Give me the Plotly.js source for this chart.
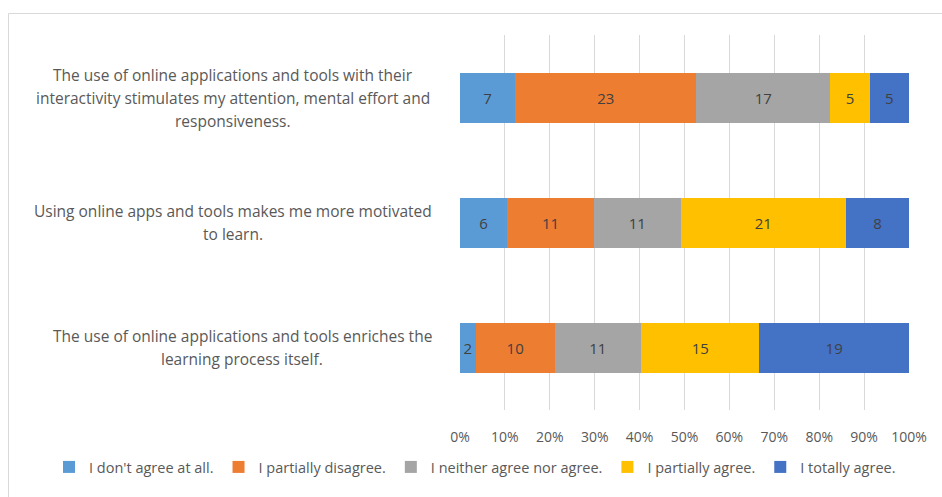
<!DOCTYPE html>
<html>
<head>
<meta charset="utf-8">
<script src="https://cdn.plot.ly/plotly-3.0.1.min.js"></script>
<style>html,body{margin:0;padding:0;background:#fff}#chart{width:942px;height:497px}</style>
</head>
<body>
<div id="chart"></div>
<script>
var categories = [
  "The use of online applications and tools with their<br>interactivity stimulates my attention, mental effort and<br>responsiveness.",
  "Using online apps and tools makes me more motivated<br>to learn.",
  "The use of online applications and tools enriches the<br>learning process itself."
];
var seriesNames = ["I don't agree at all.", "I partially disagree.", "I neither agree nor agree.", "I partially agree.", "I totally agree."];
var dontAgree = [7, 6, 2];
var partiallyDisagree = [23, 11, 10];
var neither = [17, 11, 11];
var partiallyAgree = [5, 21, 15];
var totallyAgree = [5, 8, 19];
var tickVals = [0,10,20,30,40,50,60,70,80,90,100];
var tickText = ["0%","10%","20%","30%","40%","50%","60%","70%","80%","90%","100%"];

var colors = ["#5B9BD5", "#ED7D31", "#A5A5A5", "#FFC000", "#4472C4"];
var allSeries = [dontAgree, partiallyDisagree, neither, partiallyAgree, totallyAgree];
var keys = ["c0","c1","c2"];
var FONT = 'Open Sans, sans-serif';
var PLOT_L = 460, PLOT_W = 449;
var labelCentersPx = [233, 233, 242];

var traces = allSeries.map(function(vals, i){
  return {
    type: 'bar', orientation: 'h',
    x: vals, y: keys, name: seriesNames[i],
    marker: {color: colors[i], line: {width: 0}},
    text: vals.map(String), textposition: 'inside', insidetextanchor: 'middle',
    constraintext: 'none',
    textfont: {family: FONT, size: 15, color: '#404040'},
    hoverinfo: 'none', width: 0.4
  };
});

var annotations = [];
categories.forEach(function(c, ci){
  var lines = c.split('<br>');
  var n = lines.length;
  lines.forEach(function(line, k){
    annotations.push({
      xref: 'paper', yref: 'y', x: (labelCentersPx[ci] - PLOT_L) / PLOT_W, y: keys[ci],
      xanchor: 'center', yanchor: 'middle',
      yshift: -((k - (n-1)/2) * 23),
      text: line, showarrow: false, align: 'center',
      font: {family: FONT, size: 15.5, color: '#595959'}
    });
  });
});

var layout = {
  width: 942, height: 497,
  margin: {l: 460, r: 33, t: 35, b: 87},
  paper_bgcolor: '#fff', plot_bgcolor: '#fff',
  barmode: 'stack', barnorm: 'percent',
  showlegend: true,
  xaxis: {
    range: [0, 100], tickvals: tickVals, ticktext: tickText,
    showgrid: true, gridcolor: '#D9D9D9', gridwidth: 1, zeroline: false,
    ticks: 'outside', ticklen: 14, tickcolor: 'rgba(0,0,0,0)',
    tickfont: {family: FONT, size: 14, color: '#595959'},
    fixedrange: true
  },
  yaxis: {
    type: 'category', categoryarray: keys, autorange: 'reversed',
    showticklabels: false, showgrid: false, zeroline: false, fixedrange: true
  },
  legend: {
    orientation: 'h', xref: 'paper', yref: 'paper',
    x: (49-460)/449, xanchor: 'left', y: -0.152, yanchor: 'middle',
    font: {family: FONT, size: 14.5, color: '#595959'},
    traceorder: 'normal', itemwidth: 30, bgcolor: 'rgba(0,0,0,0)'
  },
  annotations: annotations,
  shapes: [{
    type: 'rect', xref: 'paper', yref: 'paper',
    x0: (8.5-460)/449, x1: (960-460)/449, y0: -(100/375), y1: 1 + (21.5/375),
    line: {color: '#D9D9D9', width: 1}, fillcolor: 'rgba(0,0,0,0)', layer: 'below'
  }]
};

Plotly.newPlot('chart', traces, layout, {displayModeBar: false, staticPlot: true});
</script>
</body>
</html>
